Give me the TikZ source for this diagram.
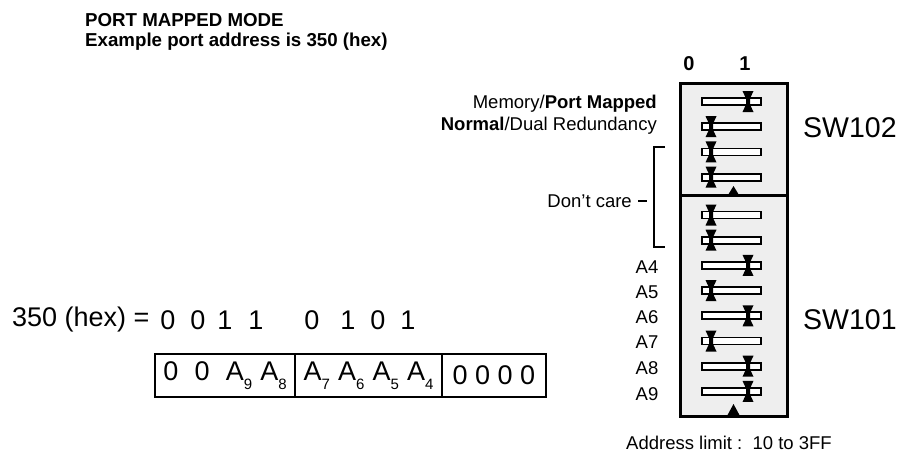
\documentclass[tikz,border=0pt]{standalone}
\usepackage{fontspec}
\setmainfont{Liberation Sans}
\usetikzlibrary{positioning}
\definecolor{SwitchGray}{HTML}{EEEEEE}
\newcommand{\bitsub}[1]{\raisebox{-0.34em}{\fontsize{15}{15}\selectfont#1}}

\tikzset{
  small/.style={font=\fontsize{18.5}{20}\selectfont, inner sep=0pt},
  big/.style={font=\fontsize{27}{29}\selectfont, inner sep=0pt},
  swbox/.style={draw, line width=3pt, fill=SwitchGray, inner sep=0pt, outer sep=0pt},
  cell/.style={draw, line width=2pt, minimum height=43pt, inner sep=0pt, outer sep=0pt, font=\fontsize{27}{29}\selectfont},
  slot/.style={draw, line width=1.8pt, fill=white},
  head/.style={font=\fontsize{18.7}{20}\selectfont\bfseries, inner sep=0pt, anchor=base west},
}

\begin{document}
\begin{tikzpicture}[x=1pt, y=-1pt]
\useasboundingbox (0,0) rectangle (902,459);

% title
\node[head] (title) at (85,26) {PORT MAPPED MODE};
\node[head] (subtitle) at (85,46.5) {Example port address is 350 (hex)};

% switch housings
\node[swbox, anchor=north west, minimum width=107pt, minimum height=112pt] (sw102) at (680,83) {};
\node[swbox, anchor=north west, minimum width=107pt, minimum height=221pt] (sw101) at (sw102.south west) {};

% column labels
\node[font=\fontsize{20}{22}\selectfont\bfseries] (off) at (689,64) {0};
\node[font=\fontsize{20}{22}\selectfont\bfseries] (on) at (745,64) {1};

\node[font=\fontsize{28.5}{30}\selectfont, anchor=west, inner sep=0pt] (lab102) at (803,128) {SW102};
\node[font=\fontsize{28.5}{30}\selectfont, anchor=west, inner sep=0pt] (lab101) at (803,320) {SW101};

% slides: y position / knob position
\foreach \y/\s in {101.5/748, 126.7/711, 151.9/711, 177.1/711, 215/711, 240.2/711, 265.4/748, 290.6/711, 315.8/748, 341/711, 366.2/748, 391.4/748} {
  \draw[slot] (702,\y-3.5) rectangle (761,\y+3.5);
  \fill[shift={(\s,\y)}] (-5.5,-10.5) -- (5.5,-10.5) -- (2,-3) -- (2,3) -- (5.5,10.5) -- (-5.5,10.5) -- (-2,3) -- (-2,-3) -- cycle;
}

% pointers
\fill ([xshift=-5.5pt]sw102.south) -- ([yshift=9pt]sw102.south) -- ([xshift=5.5pt]sw102.south) -- cycle;
\fill ([xshift=-6.5pt]sw101.south) -- ([yshift=12pt]sw101.south) -- ([xshift=6.5pt]sw101.south) -- cycle;

% left labels
\node[small, anchor=east] (mem) at (657,104) {Memory/\textbf{Port Mapped}};
\node[small, anchor=east] (norm) at (657,126) {\textbf{Normal}/Dual Redundancy};
\node[small, anchor=east] (dc) at (632,201) {Don’t care};
\coordinate (btop) at (665,147);
\coordinate (bbot) at (665,247);
\draw[line width=1.6pt] (btop) -- ++(-11,0) |- (bbot);
\draw[line width=1.6pt] ([xshift=6pt]dc.east) -- ++(9,0);

\foreach \y/\a in {267/4,292/5,317/6,342/7,368/8,394/9}
  \node[small] (a\a) at (647,\y) {A\a};

% address bits
\node[big, anchor=west] (hex) at (12,320) {350 (hex) =};
\foreach \x/\d [count=\i] in {168/0,198/0,225/1,256/1,312/0,348/1,378/0,408/1}
  \node[big] (d\i) at (\x,320) {\d};

\node[cell, minimum width=140pt, anchor=north west] (hi) at (155,354) {0\hspace{0.6em}0\hspace{0.6em}A\bitsub{9}\hspace{0.3em}A\bitsub{8}};
\node[cell, minimum width=147pt, anchor=west] (mid) at (hi.east) {A\bitsub{7}\hspace{0.3em}A\bitsub{6}\hspace{0.3em}A\bitsub{5}\hspace{0.3em}A\bitsub{4}};
\node[cell, minimum width=104pt, anchor=west] (lo) at (mid.east) {0 0 0 0};

\node[small] (limit) at (729,443) {Address limit :\ \ 10 to 3FF};
\end{tikzpicture}
\end{document}
